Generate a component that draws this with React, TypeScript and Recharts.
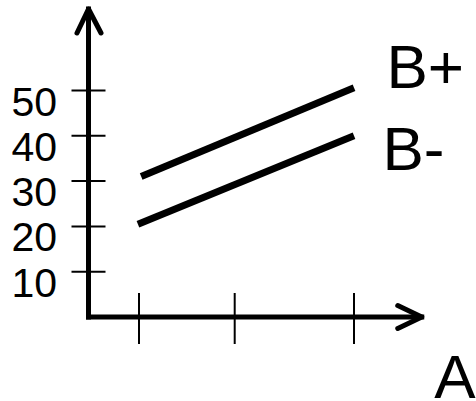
import { LineChart, Line, XAxis, YAxis, ReferenceDot } from "recharts"

// hand-drawn style sketch: B rises with A, B+ sits above B-
const aTicks = [1, 1.89, 3]
const bTicks = [10, 20, 30, 40, 50]
const bPlus = [
  { a: 1.02, b: 31 },
  { a: 3, b: 50.6 },
]
const bMinus = [
  { a: 0.99, b: 20.5 },
  { a: 3, b: 40 },
]
const aDomain = [0.53, 3.63]
const bDomain = [0, 68]

const font = "'Liberation Sans', Arial, sans-serif"

const BTick = ({ x, y, payload }: any) => (
  <g>
    <line x1={x - 17} x2={x + 17} y1={y} y2={y} stroke='#000' strokeWidth={2} />
    <text
      x={x - 31.5}
      y={y + 25}
      textAnchor='end'
      fontSize={41}
      fontFamily={font}
      fill='#000'>
      {payload.value}
    </text>
  </g>
)

const ATick = ({ x, y }: any) => (
  <line x1={x} x2={x} y1={y - 24} y2={y + 27} stroke='#000' strokeWidth={2} />
)

const ArrowUp = ({ cx, cy }: any) => (
  <path
    d={`M${cx - 11.5},${cy + 24} L${cx},${cy} L${cx + 12.5},${cy + 24}`}
    fill='none'
    stroke='#000'
    strokeWidth={5}
    strokeLinecap='round'
    strokeLinejoin='round'
  />
)

const ArrowRight = ({ cx, cy }: any) => (
  <path
    d={`M${cx - 24},${cy - 11.5} L${cx},${cy} L${cx - 24},${cy + 11.5}`}
    fill='none'
    stroke='#000'
    strokeWidth={5}
    strokeLinecap='round'
    strokeLinejoin='round'
  />
)

const endLabel = (name: string, last: number, dx: number, dy: number) => (props: any) => {
  if (props.index !== last) return <g key={`e-${name}-${props.index}`} />
  return (
    <text
      key={`l-${name}`}
      x={props.cx + dx}
      y={props.cy + dy}
      fontSize={62}
      fontFamily={font}
      fill='#000'>
      {name}
    </text>
  )
}

const AName = ({ viewBox }: any) => (
  <text
    x={viewBox.x + viewBox.width + 12.5}
    y={viewBox.y + 81}
    fontSize={62}
    fontFamily={font}
    fill='#000'>
    A
  </text>
)

export default function App() {
  return (
    <div style={{ position: "absolute", left: 0, top: 0, background: "#fff" }}>
      <LineChart width={476} height={401} margin={{ top: 9, right: 54.25, bottom: 0, left: 0 }}>
        <XAxis
          type='number'
          dataKey='a'
          domain={aDomain}
          ticks={aTicks}
          height={84}
          tickSize={0}
          tickMargin={0}
          tickLine={false}
          tick={<ATick />}
          axisLine={{ stroke: "#000", strokeWidth: 5, strokeLinecap: "square" }}
          label={{ value: "A", content: AName }}
        />
        <YAxis
          type='number'
          domain={bDomain}
          ticks={bTicks}
          width={88.5}
          tickSize={0}
          tickMargin={0}
          tickLine={false}
          tick={<BTick />}
          axisLine={{ stroke: "#000", strokeWidth: 5, strokeLinecap: "square" }}
        />
        <ReferenceDot x={aDomain[1]} y={bDomain[0]} ifOverflow='visible' shape={ArrowRight} />
        <ReferenceDot x={aDomain[0]} y={bDomain[1]} ifOverflow='visible' shape={ArrowUp} />
        <Line
          data={bPlus}
          dataKey='b'
          stroke='#000'
          strokeWidth={7}
          dot={endLabel("B+", bPlus.length - 1, 32.5, 0)}
          activeDot={false}
          isAnimationActive={false}
        />
        <Line
          data={bMinus}
          dataKey='b'
          stroke='#000'
          strokeWidth={7}
          dot={endLabel("B-", bMinus.length - 1, 28.5, 34)}
          activeDot={false}
          isAnimationActive={false}
        />
      </LineChart>
    </div>
  )
}
